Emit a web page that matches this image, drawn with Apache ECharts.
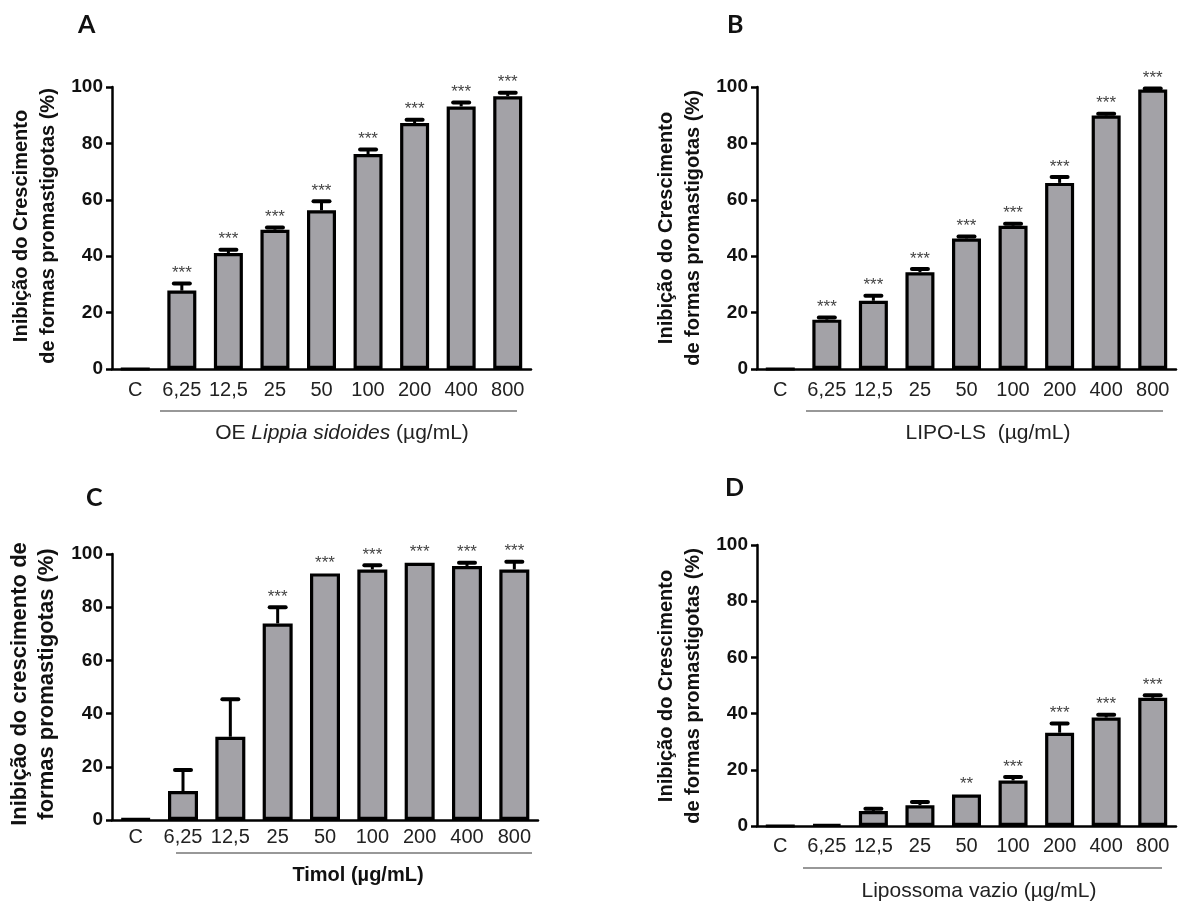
<!DOCTYPE html>
<html>
<head>
<meta charset="utf-8">
<script src="https://cdn.jsdelivr.net/npm/echarts@6/dist/echarts.min.js"></script>
<style>
  html, body { margin: 0; padding: 0; background: #fff; }
  #main { width: 1181px; height: 905px; }
</style>
</head>
<body>
<div id="main"></div>
<script>
// categorias (concentração em µg/mL)
var categories = ['C', '6,25', '12,5', '25', '50', '100', '200', '400', '800'];

// A - OE Lippia sidoides
var meanA = [0, 27.8, 41.1, 49.4, 56.3, 76.2, 87.2, 93.1, 96.7];
var errA = [0, 2.5, 1.2, 0.8, 3.2, 1.6, 1.2, 1.4, 1.3];
var starsA = ['', '***', '***', '***', '***', '***', '***', '***', '***'];

// B - LIPO-LS
var meanB = [0, 17.5, 24.2, 34.3, 46.3, 50.8, 66.0, 89.9, 99.1];
var errB = [0, 0.8, 1.8, 1.2, 0.7, 0.7, 2.1, 0.6, 0.4];
var starsB = ['', '***', '***', '***', '***', '***', '***', '***', '***'];

// C - Timol
var meanC = [0.4, 10.9, 31.3, 73.9, 92.7, 94.2, 96.7, 95.5, 94.2];
var errC = [0, 7.9, 14.1, 6.1, 0, 1.6, 0, 1.2, 2.9];
var starsC = ['', '', '', '***', '***', '***', '***', '***', '***'];

// D - Lipossoma vazio
var meanD = [0, 0.5, 5.3, 7.4, 11.2, 16.2, 33.2, 38.6, 45.6];
var errD = [0, 0, 0.8, 1.1, 0, 1.2, 3.3, 1.0, 0.9];
var starsD = ['', '', '', '', '**', '***', '***', '***', '***'];

var yTicks = [0, 20, 40, 60, 80, 100];

var myChart = echarts.init(document.getElementById('main'));

var font = 'Liberation Sans, Arial, sans-serif';
var barColor = '#a3a2a7';

var panels = [
  { mean: meanA, err: errA, stars: starsA, grid: { left: 112, top: 87, width: 419, height: 282 }, barWidth: 29, labelMargin: 11 },
  { mean: meanB, err: errB, stars: starsB, grid: { left: 757, top: 87, width: 419, height: 282 }, barWidth: 29, labelMargin: 11 },
  { mean: meanC, err: errC, stars: starsC, grid: { left: 112, top: 554, width: 426, height: 266 }, barWidth: 30, labelMargin: 7 },
  { mean: meanD, err: errD, stars: starsD, grid: { left: 757, top: 545, width: 419, height: 281 }, barWidth: 29, labelMargin: 10 }
];

var grids = [], xAxes = [], yAxes = [], series = [];

panels.forEach(function (p, i) {
  grids.push(p.grid);
  xAxes.push({
    type: 'category',
    gridIndex: i,
    data: categories,
    axisLine: { lineStyle: { color: '#000', width: 2.5 } },
    axisTick: { show: false },
    axisLabel: { color: '#222', fontSize: 20, fontFamily: font, margin: p.labelMargin, interval: 0 }
  });
  yAxes.push({
    type: 'value',
    gridIndex: i,
    min: yTicks[0],
    max: yTicks[yTicks.length - 1],
    interval: 20,
    axisLine: { show: true, lineStyle: { color: '#000', width: 2.5 } },
    axisTick: { show: true, length: 6, lineStyle: { color: '#000', width: 2.5 } },
    splitLine: { show: false },
    axisLabel: { color: '#111', fontSize: 19, fontWeight: 'bold', fontFamily: font, margin: 9 }
  });
  series.push({
    type: 'bar',
    xAxisIndex: i,
    yAxisIndex: i,
    barWidth: p.barWidth,
    data: p.mean,
    itemStyle: { color: barColor, borderColor: '#000', borderWidth: 3.2 },
    silent: true
  });
  // barras de erro (só para cima) + asteriscos
  series.push({
    type: 'custom',
    xAxisIndex: i,
    yAxisIndex: i,
    silent: true,
    z: 3,
    data: p.mean.map(function (m, k) { return [k, m, p.err[k]]; }),
    renderItem: function (params, api) {
      var k = api.value(0), m = api.value(1), e = api.value(2);
      var base = api.coord([k, m]);
      var top = api.coord([k, m + e]);
      var children = [];
      if (e > 0) {
        children.push({
          type: 'line',
          shape: { x1: base[0], y1: base[1], x2: top[0], y2: top[1] },
          style: { stroke: '#000', lineWidth: 3 }
        });
        children.push({
          type: 'line',
          shape: { x1: top[0] - 8, y1: top[1], x2: top[0] + 8, y2: top[1] },
          style: { stroke: '#000', lineWidth: 4, lineCap: 'round' }
        });
      }
      var s = p.stars[params.dataIndex];
      if (s) {
        children.push({
          type: 'text',
          style: {
            text: s, x: top[0], y: top[1] - 10,
            align: 'center', verticalAlign: 'middle',
            fontSize: 17, fontFamily: font, fill: '#444'
          }
        });
      }
      return { type: 'group', children: children };
    }
  });
});

function letter(txt, x, y) {
  return { type: 'text', left: x, top: y, style: { text: txt, fontSize: 25, fontWeight: 'bold', fontFamily: 'Lato, ' + font, fill: '#111' } };
}
function yTitle(txt, cx, cy, size, lh) {
  return {
    type: 'text', x: cx, y: cy, rotation: Math.PI / 2,
    style: { text: txt, align: 'center', verticalAlign: 'middle', fontSize: size, lineHeight: lh, fontWeight: 'bold', fontFamily: font, fill: '#111' }
  };
}
function hline(x1, x2, y) {
  return { type: 'line', shape: { x1: x1, y1: y, x2: x2, y2: y }, style: { stroke: '#333', lineWidth: 1.2 } };
}

var graphics = [
  letter('A', 78, 12), letter('B', 727, 12), letter('C', 86, 485), letter('D', 725, 475),
  yTitle('Inibição do Crescimento\nde formas promastigotas (%)', 35, 226, 20, 27),
  yTitle('Inibição do Crescimento\nde formas promastigotas (%)', 680, 228, 20, 27),
  yTitle('Inibição do crescimento de\nformas promastigotas (%)', 33, 684, 22, 27),
  yTitle('Inibição do Crescimento\nde formas promastigotas (%)', 680, 686, 20, 27),
  hline(160, 517, 411), hline(806, 1163, 411), hline(176, 532, 853), hline(803, 1162, 868),
  {
    type: 'text', x: 342, y: 433,
    style: {
      text: 'OE {i|Lippia sidoides} (µg/mL)', align: 'center', verticalAlign: 'middle',
      fontSize: 21, fontFamily: font, fill: '#222',
      rich: { i: { fontStyle: 'italic', fontSize: 21, fontFamily: font, fill: '#222' } }
    }
  },
  { type: 'text', x: 988, y: 433, style: { text: 'LIPO-LS  (µg/mL)', align: 'center', verticalAlign: 'middle', fontSize: 21, fontFamily: font, fill: '#222' } },
  { type: 'text', x: 358, y: 875, style: { text: 'Timol (µg/mL)', align: 'center', verticalAlign: 'middle', fontSize: 20, fontWeight: 'bold', fontFamily: font, fill: '#111' } },
  { type: 'text', x: 979, y: 891, style: { text: 'Lipossoma vazio (µg/mL)', align: 'center', verticalAlign: 'middle', fontSize: 21, fontFamily: font, fill: '#222' } }
];

myChart.setOption({
  animation: false,
  backgroundColor: '#fff',
  grid: grids,
  xAxis: xAxes,
  yAxis: yAxes,
  series: series,
  graphic: graphics
});
</script>
</body>
</html>
